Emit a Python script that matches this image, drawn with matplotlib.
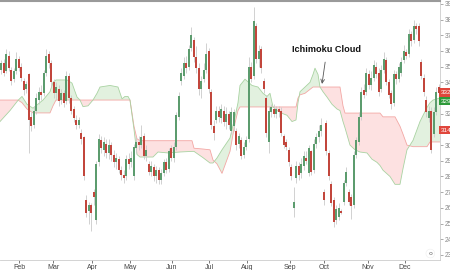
import matplotlib
matplotlib.use("Agg")
import matplotlib.pyplot as plt
import numpy as np

# daily candles (open / high / low / close)
opens = [
    348, 352, 347, 357, 348, 342, 347, 355, 350, 341,
    336, 345, 318, 313, 322, 329, 334, 333, 346, 358,
    352, 340, 333, 336, 329, 333, 328, 344, 330, 323,
    316, 313, 308, 305, 265, 258, 262, 270, 252, 289,
    303, 297, 301, 295, 300, 294, 289, 291, 284, 281,
    280, 291, 289, 280, 298, 302, 300, 306, 293, 288,
    283, 286, 280, 284, 278, 282, 289, 285, 298, 292,
    299, 318, 341, 344, 352, 350, 362, 367, 356, 349,
    336, 342, 348, 360, 334, 312, 316, 322, 317, 322,
    315, 320, 309, 312, 309, 301, 303, 294, 299, 304,
    350, 344, 376, 355, 361, 341, 330, 302, 321, 323,
    320, 323, 322, 306, 302, 297, 286, 260, 279, 287,
    282, 287, 292, 282, 296, 284, 301, 305, 309, 270,
    314, 295, 275, 265, 252, 254, 258, 264, 276, 270,
    267, 262, 294, 302, 318, 335, 334, 345, 338, 343,
    350, 346, 336, 348, 354, 340, 333, 327, 345, 342,
    346, 354, 359, 358, 371, 367, 376, 376, 353, 343,
    329, 317, 322, 307, 321, 337,
]
closes = [
    352, 346, 358, 349, 341, 347, 355, 349, 343, 335,
    339, 316, 312, 322, 330, 334, 332, 346, 357, 352,
    340, 333, 337, 328, 333, 327, 344, 330, 322, 317,
    313, 316, 304, 280, 257, 262, 257, 267, 288, 304,
    298, 302, 295, 300, 294, 289, 292, 284, 281, 279,
    291, 288, 292, 299, 302, 300, 305, 293, 297, 283,
    287, 280, 284, 278, 282, 289, 284, 296, 292, 299,
    319, 331, 346, 352, 349, 361, 370, 356, 349, 336,
    341, 348, 358, 336, 313, 308, 322, 318, 323, 315,
    320, 313, 321, 321, 300, 306, 293, 299, 303, 350,
    342, 379, 355, 360, 349, 336, 308, 322, 324, 320,
    323, 321, 308, 300, 299, 289, 280, 264, 287, 281,
    288, 293, 290, 298, 283, 301, 305, 309, 313, 265,
    296, 280, 263, 251, 259, 260, 257, 276, 283, 264,
    261, 294, 303, 318, 334, 332, 346, 338, 343, 351,
    345, 334, 348, 355, 340, 332, 326, 345, 342, 350,
    353, 360, 357, 371, 366, 376, 374, 366, 344, 334,
    321, 322, 297, 321, 334, 333,
]
highs = [
    354, 355, 361, 360, 350, 349, 359, 357, 352, 343,
    341, 346, 321, 325, 333, 337, 338, 348, 361, 360,
    354, 342, 340, 338, 336, 335, 347, 346, 332, 325,
    319, 318, 310, 306, 268, 264, 263, 272, 290, 307,
    306, 305, 304, 304, 302, 297, 295, 293, 287, 284,
    294, 295, 296, 301, 305, 306, 313, 308, 300, 290,
    290, 288, 287, 286, 285, 291, 292, 298, 300, 302,
    321, 334, 349, 356, 357, 364, 375, 369, 363, 352,
    344, 352, 365, 362, 336, 316, 325, 325, 326, 325,
    324, 322, 324, 323, 311, 308, 305, 302, 306, 356,
    353, 388, 378, 364, 363, 343, 332, 325, 326, 326,
    325, 325, 324, 307, 304, 299, 288, 273, 290, 289,
    292, 296, 296, 300, 297, 304, 308, 313, 317, 272,
    316, 297, 277, 267, 262, 263, 259, 278, 286, 272,
    269, 296, 305, 321, 337, 339, 349, 348, 347, 354,
    353, 349, 351, 359, 356, 342, 335, 348, 347, 352,
    356, 364, 361, 374, 373, 380, 378, 378, 355, 345,
    331, 325, 324, 324, 337, 339,
]
lows = [
    345, 344, 346, 347, 338, 340, 345, 347, 341, 332,
    333, 295, 309, 311, 320, 326, 329, 331, 344, 349,
    337, 330, 329, 325, 326, 324, 326, 327, 320, 315,
    310, 311, 301, 278, 254, 250, 245, 262, 250, 287,
    295, 293, 292, 291, 290, 286, 285, 282, 278, 276,
    278, 285, 286, 278, 295, 297, 298, 291, 290, 281,
    280, 277, 276, 275, 275, 280, 282, 283, 290, 289,
    297, 316, 338, 342, 346, 348, 360, 353, 346, 332,
    330, 340, 346, 333, 310, 303, 314, 315, 314, 312,
    310, 310, 307, 309, 297, 298, 291, 292, 297, 302,
    340, 342, 352, 350, 346, 333, 305, 295, 318, 318,
    317, 318, 306, 298, 297, 287, 278, 254, 276, 278,
    279, 284, 288, 280, 281, 282, 298, 302, 306, 262,
    294, 278, 261, 248, 250, 252, 256, 262, 274, 262,
    253, 260, 292, 300, 316, 330, 332, 336, 335, 341,
    343, 331, 334, 346, 338, 330, 323, 325, 339, 340,
    344, 352, 355, 356, 363, 365, 371, 363, 342, 331,
    318, 315, 295, 305, 319, 331,
]

# cloud (senkou span A / B), sampled at candle positions
cloud_t = [
    -0.5, 3.5, 6.7, 8.3, 10.3, 12.7, 16.7, 19.5, 20.7, 21.9,
    26.3, 28.3, 30.3, 31.5, 32.7, 34.7, 36.7, 38.3, 39.5, 43.5,
    46.7, 48.3, 49.5, 50.7, 51.5, 53.1, 54.3, 55.5, 60.7, 62.7,
    66.7, 71.5, 76.3, 77.1, 80.7, 83.5, 84.7, 86.3, 88.3, 91.5,
    93.5, 94.7, 95.5, 97.5, 100.3, 102.7, 104.7, 106.3, 107.5, 108.7,
    110.3, 112.7, 114.3, 116.3, 117.9, 118.7, 119.5, 121.5, 123.5, 124.7,
    125.5, 126.7, 127.5, 128.7, 130.3, 132.3, 134.3, 135.5, 136.7, 137.5,
    139.5, 141.5, 143.5, 146.3, 148.3, 150.3, 151.5, 152.7, 155.5, 157.5,
    159.5, 160.7, 162.3, 164.7, 167.5, 170.3, 171.5, 172.7, 175.5,
]
span_a = [
    315, 322, 328.5, 331, 326, 323.5, 328.7, 334, 340, 341.5,
    341.5, 339.5, 330.6, 328.7, 324.5, 325, 328.7, 333, 337, 338,
    337, 329.5, 331, 331, 328.7, 310, 294, 292.4, 292.4, 295.6,
    295, 295.6, 296, 296, 292, 288.6, 288.6, 291.8, 297, 304.5,
    318, 327, 338, 342, 338, 337, 333, 331, 333, 324.3,
    322, 320, 319, 315, 316, 327, 334, 337, 340, 345,
    349, 345, 337, 334, 330.6, 326, 323, 322, 315, 311,
    300, 297, 295.6, 295, 291, 289, 287, 284, 280, 275,
    275, 285, 297, 303, 315, 324, 327, 328.7, 330,
]
span_b = [
    328.7, 328.7, 328.7, 327, 323, 320.5, 320.5, 320.5, 325, 328.7,
    328.7, 328.7, 328.7, 328.7, 328.7, 328.7, 328.7, 328.7, 328.7, 328.7,
    328.7, 328.7, 328.7, 328.7, 328.7, 312, 304, 302.8, 302.8, 302.8,
    302.8, 302.8, 302.8, 298, 297.5, 297, 290.5, 288, 282, 296,
    314, 322, 324.3, 324.3, 324.3, 324.3, 324.3, 324.3, 324.3, 324.3,
    324.3, 324.3, 324.3, 324.3, 324.3, 330, 332, 333, 335.5, 337,
    337, 337, 337, 337, 337, 337, 337, 337, 325, 320.4,
    320.4, 320.4, 320.4, 320.4, 320.4, 320.4, 320.4, 318, 318, 318,
    312, 307, 300, 299, 299, 299, 302, 302, 302,
]

month_pos = [7.1, 20.7, 36.3, 51.5, 68.3, 83.1, 98.3, 115.5, 129.1, 146.7, 161.5]
month_labels = ["Feb", "Mar", "Apr", "May", "Jun", "Jul", "Aug", "Sep", "Oct", "Nov", "Dec"]
price_ticks = list(range(230, 391, 10))

UP = "#5c9c6e"
DOWN = "#c2463c"

fig = plt.figure(figsize=(4.5, 2.7), dpi=100)
ax = fig.add_axes([0, 10 / 270, 440 / 450, 259 / 270])

t = np.asarray(cloud_t)
a = np.asarray(span_a)
b = np.asarray(span_b)
ax.fill_between(t, a, b, where=a >= b, interpolate=True, color="#e2f1df", lw=0, zorder=1)
ax.fill_between(t, a, b, where=a < b, interpolate=True, color="#fde1e1", lw=0, zorder=1)
ax.plot(t, b, color="#f3a7a4", lw=0.6, zorder=2)
ax.plot(t, a, color="#a9d3a2", lw=0.6, zorder=2)

o = np.asarray(opens, float)
c = np.asarray(closes, float)
x = np.arange(len(o))
up = c >= o
ax.vlines(x, lows, highs, color="#cacaca", lw=0.6, zorder=3)
ax.bar(x, np.abs(c - o), bottom=np.minimum(o, c), width=0.72,
       color=np.where(up, UP, DOWN), lw=0, zorder=4)

ax.annotate("Ichimoku Cloud", xy=(128.3, 339), xytext=(130.3, 361),
            ha="center", va="center", fontsize=6.6, fontweight="bold",
            family="Liberation Sans", color="#111111",
            arrowprops=dict(arrowstyle="->", color="#555555", lw=0.6,
                            shrinkA=4, shrinkB=0))

# last-value tags on the price axis
tags = [(333.5, "332", "#e0463c"), (328.0, "329", "#2e9a3a"), (309.5, "314", "#e0463c")]
for val, txt, col in tags:
    ax.text(1.002, val, txt, transform=ax.get_yaxis_transform(), fontsize=4.6,
            color="white", ha="left", va="center", family="Liberation Sans",
            bbox=dict(boxstyle="square,pad=0.25", fc=col, ec="none"), clip_on=False)

# small settings badge in the bottom-right corner
ax.text(0.978, 0.025, "o", transform=ax.transAxes, fontsize=4.5, color="#666666",
        ha="center", va="center",
        bbox=dict(boxstyle="circle,pad=0.3", fc="white", ec="#eeeeee", lw=0.4))

ax.set_xlim(-0.5, 175.5)
ax.set_ylim(226.8, 391.8)
ax.yaxis.tick_right()
ax.set_yticks(price_ticks)
ax.set_xticks(month_pos)
ax.set_xticklabels(month_labels)
ax.tick_params(axis="y", labelsize=4.8, colors="#888888", length=2, width=0.5, pad=1.5)
ax.tick_params(axis="x", labelsize=5.0, colors="#444444", length=2, width=0.5, pad=1)
for lab in ax.get_xticklabels() + ax.get_yticklabels():
    lab.set_family("Liberation Sans")
ax.spines["left"].set_visible(False)
ax.spines["top"].set_color("#9a9a9a")
ax.spines["top"].set_linewidth(1.5)
ax.spines["right"].set_color("#cccccc")
ax.spines["right"].set_linewidth(0.6)
ax.spines["bottom"].set_color("#cccccc")
ax.spines["bottom"].set_linewidth(0.6)

fig.savefig("out.png", dpi=100)
